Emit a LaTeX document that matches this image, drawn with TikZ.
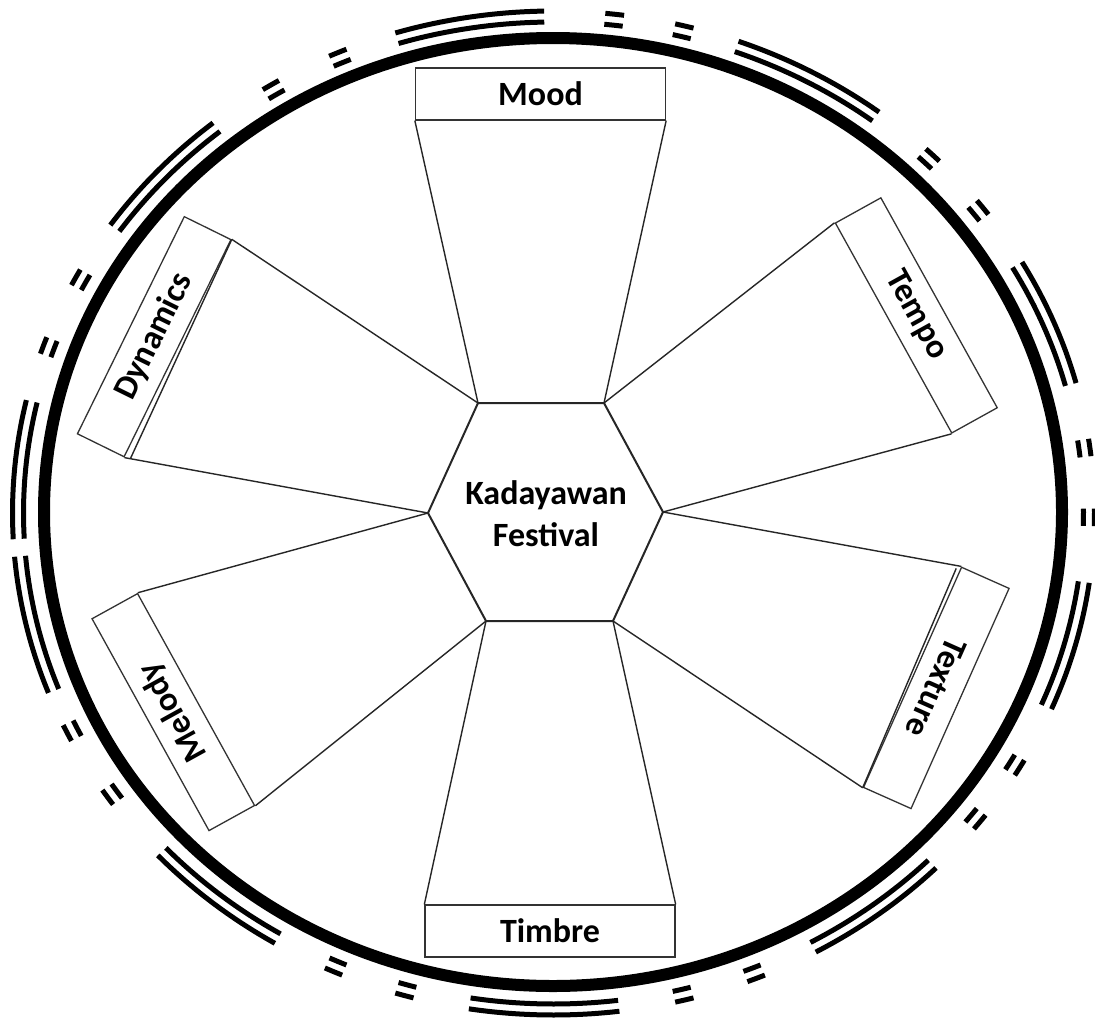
\documentclass[tikz,border=0pt]{standalone}
\usepackage{fontspec}
\setmainfont{Carlito}
\usetikzlibrary{calc}
\begin{document}
\begin{tikzpicture}[x=1pt,y=-1pt,
  lab/.style={draw=black!80, line width=1.3pt, minimum width=250pt, minimum height=52pt,
              inner sep=0pt, font=\bfseries\fontsize{34}{36}\selectfont},
  spoke/.style={draw=black!85, line width=1.4pt},
  hexline/.style={draw=black!85, line width=2pt, line join=miter},
  ring/.style={line width=5pt, line cap=butt}]
\useasboundingbox (0,0) rectangle (1095,1023);
\fill[white] (0,0) rectangle (1095,1023);

% main thick ring
\draw[line width=12pt] (553,512) ellipse [x radius=509, y radius=474];

% outer double arcs
\foreach \a/\b in {91/107,129/145,167/183,185/201,223/239,261/277,299/315,337/352,15/30,53/70}{
  \draw[ring] plot[domain=\a:\b, samples=40] ({553.5+530*cos(\x)},{513-491*sin(\x)});
  \draw[ring] plot[domain=\a:\b, samples=40] ({553.5+541*cos(\x)},{513-502*sin(\x)});
}
% short double marks
\foreach \m in {113.5,121.5,152,160.5,206,214.5,246,254,284,292,322,329.5,359.5,367.5,37.5,45.5,76,83.5}{
  \draw[ring] plot[domain=\m-1:\m+1, samples=6] ({553.5+530*cos(\x)},{513-491*sin(\x)});
  \draw[ring] plot[domain=\m-1:\m+1, samples=6] ({553.5+541*cos(\x)},{513-502*sin(\x)});
}

% central hexagon
\coordinate (tl) at (478,403);
\coordinate (tr) at (604,403);
\coordinate (r)  at (663,512);
\coordinate (br) at (613,621);
\coordinate (bl) at (486,621);
\coordinate (l)  at (428,513);
\draw[hexline] (tl) -- (tr) -- (r) -- (br) -- (bl) -- (l) -- cycle;
\node[font=\bfseries\fontsize{34}{42}\selectfont, align=center] (hub) at (546,514) {Kadayawan\\Festival};

% label boxes
\node[lab] (mood) at (540.5,94) {Mood};
\node[lab] (timbre) at (550,931) {Timbre};
\node[lab, rotate=63.8, minimum width=242pt] (dyn) at (154.2,336.7) {Dynamics};
\node[lab, rotate=-61, minimum width=240pt] (tempo) at (916.3,315.4) {Tempo};
\node[lab, rotate=118.9, minimum width=242pt] (mel) at (173.3,712.1) {Melody};
\node[lab, rotate=-114, minimum width=241pt] (tex) at (936.3,687.9) {Texture};

% spokes
\draw[spoke] (mood.south west) -- (tl);
\draw[spoke] (mood.south east) -- (tr);
\draw[spoke] (timbre.north west) -- (bl);
\draw[spoke] (timbre.north east) -- (br);
\draw[spoke] (dyn.south east) -- (tl);
\draw[spoke] (dyn.south west) -- (l);
\draw[spoke] (dyn.south east) -- ($(dyn.south west)+(6,1)$);
\draw[spoke] (tempo.south west) -- (tr);
\draw[spoke] (tempo.south east) -- (r);
\draw[spoke] (mel.south east) -- (l);
\draw[spoke] (mel.south west) -- (bl);
\draw[spoke] (tex.south west) -- (r);
\draw[spoke] (tex.south east) -- (br);
\draw[spoke] (tex.south east) -- ($(tex.south west)+(-5,2)$);
\end{tikzpicture}
\end{document}
